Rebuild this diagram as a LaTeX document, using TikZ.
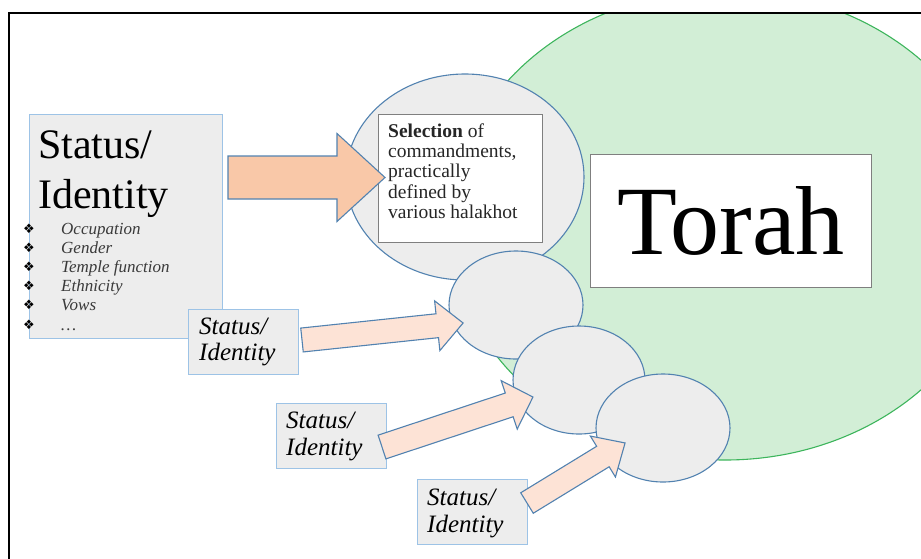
\documentclass[tikz,border=0pt]{standalone}
\usepackage{fontspec}
\setmainfont{Liberation Serif}
\newfontfamily\symfont{DejaVu Sans}
\usetikzlibrary{shapes.geometric}
\definecolor{greenfill}{HTML}{D2EED6}
\definecolor{greenline}{HTML}{3DB55C}
\definecolor{ellfill}{HTML}{EDEDED}
\definecolor{ellline}{HTML}{5282B0}
\definecolor{boxline}{HTML}{9DC3E6}
\definecolor{grayline}{HTML}{7F7F7F}
\definecolor{bigarrow}{HTML}{F9C8A8}
\definecolor{smallarrow}{HTML}{FDE3D6}
\definecolor{listtext}{HTML}{3A3A3A}
\newcommand\blockarrow[8]{%
  % #1 tail point, #2 angle, #3 length, #4 shaft half, #5 head half, #6 head length, #7 fill
  \begin{scope}[shift={#1}, rotate=#2]
    \draw[arrowshape, fill=#7] (0,-#4) -- ({#3-#6},-#4) -- ({#3-#6},-#5) -- (#3,0)
      -- ({#3-#6},#5) -- ({#3-#6},#4) -- (0,#4) -- cycle;
  \end{scope}#8}
\begin{document}
\begin{tikzpicture}[x=1pt,y=-1pt,
  arrowshape/.style={draw=ellline, line width=1.1pt, line join=miter},
  blob/.style={ellipse, draw=ellline, fill=ellfill, line width=1.1pt, inner sep=0pt},
  statbox/.style={draw=boxline, fill=ellfill, line width=1pt, inner sep=0pt, anchor=north west},
  whitebox/.style={draw=grayline, fill=white, line width=1pt, inner sep=0pt, anchor=north west},
  smalllabel/.style={anchor=base west, inner sep=0pt, font=\fontsize{25}{26}\selectfont\itshape},
  listitem/.style={anchor=base west, inner sep=0pt, text=listtext, font=\fontsize{17}{18}\selectfont\itshape},
  selline/.style={anchor=base west, inner sep=0pt, text=black!85, font=\fontsize{19.5}{20}\selectfont},
  bulletmark/.style={anchor=center, inner sep=0pt, font=\symfont\fontsize{13}{13}\selectfont}]
\useasboundingbox (0,0) rectangle (921,558);
% Torah ellipse, clipped by the frame
\begin{scope}
  \clip (9,13) rectangle (935,570);
  \node[ellipse, draw=greenline, fill=greenfill, line width=1.1pt, inner sep=0pt,
        minimum width=550pt, minimum height=470pt] (torahell) at (725,225) {};
\end{scope}
% Torah box
\node[whitebox, minimum width=281pt, minimum height=133pt] (torahbox) at (590,154) {};
\node[inner sep=0pt, font=\fontsize{98}{98}\selectfont] (torah) at (torahbox.center) {Torah};
% selection ellipse
\node[blob, minimum width=238pt, minimum height=206pt] (selell) at (465,177) {};
\node[whitebox, minimum width=164pt, minimum height=128pt] (selbox) at (378,114) {};
\node[selline] (sel1) at (388,137) {\textbf{Selection} of};
\node[selline] (sel2) at (388,157.5) {commandments,};
\node[selline] (sel3) at (388,177.5) {practically};
\node[selline] (sel4) at (388,198) {defined by};
\node[selline] (sel5) at (388,218) {various halakhot};
% small ellipses
\node[blob, minimum width=134pt, minimum height=108pt] (e1) at (516,305) {};
\node[blob, minimum width=132pt, minimum height=108pt] (e2) at (579,380) {};
\node[blob, minimum width=134pt, minimum height=108pt] (e3) at (663,428) {};
% big status box
\node[statbox, minimum width=193pt, minimum height=224pt] (bigbox) at (29,114) {};
\node[anchor=base west, inner sep=0pt, font=\fontsize{42}{42}\selectfont] (bs1) at (38,158) {Status/};
\node[anchor=base west, inner sep=0pt, font=\fontsize{42}{42}\selectfont] (bs2) at (38,208) {Identity};
\foreach \t/\y [count=\i] in {Occupation/234, Gender/253, Temple function/272, Ethnicity/291, Vows/310, \dots/330}{
  \node[bulletmark] (b\i) at (29,\y-5) {❖};
  \node[listitem] (l\i) at (61,\y) {\t};
}
% small status boxes
\node[statbox, minimum width=110pt, minimum height=65pt] (s2) at (188,309) {};
\node[smalllabel] (s2a) at (199,334) {Status/};
\node[smalllabel] (s2b) at (199,360) {Identity};
\node[statbox, minimum width=110pt, minimum height=65pt] (s3) at (276,403) {};
\node[smalllabel] (s3a) at (286,428) {Status/};
\node[smalllabel] (s3b) at (286,455) {Identity};
\node[statbox, minimum width=110pt, minimum height=65pt] (s4) at (417,479) {};
\node[smalllabel] (s4a) at (427,505) {Status/};
\node[smalllabel] (s4b) at (427,532) {Identity};
% arrows
\coordinate (t1) at (228,177.5);
\coordinate (t2) at (302,340);
\coordinate (t3) at (382,447);
\coordinate (t4) at (527,503);
\blockarrow{(t1)}{0}{157}{21.5}{44}{48}{bigarrow}{}
\blockarrow{(t2)}{6.03}{162}{12}{25}{26}{smallarrow}{}
\blockarrow{(t3)}{18.32}{159}{12.5}{25.5}{25}{smallarrow}{}
\blockarrow{(t4)}{31.48}{115}{12}{24}{26}{smallarrow}{}
% frame
\coordinate (fa) at (9,560);
\coordinate (fb) at (9,13);
\coordinate (fc) at (925,13);
\draw[line width=2pt, line cap=rect] (fa) -- (fb) -- (fc);
\end{tikzpicture}
\end{document}
